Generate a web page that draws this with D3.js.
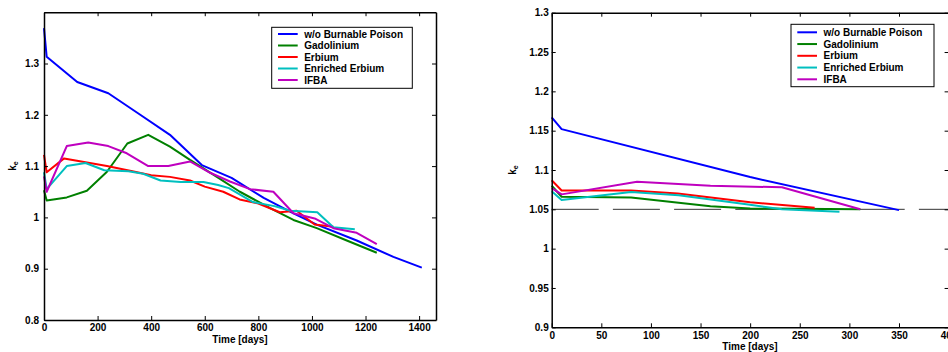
<!DOCTYPE html>
<html><head><meta charset="utf-8">
<script src="https://cdn.jsdelivr.net/npm/d3@7"></script>
<style>
body{margin:0;background:#fff;}
svg{display:block;font-family:"Liberation Sans",Arial,sans-serif;font-weight:bold;}
</style></head><body><svg id="c" width="948" height="352"></svg>
<script>
const seriesNames = ["w/o Burnable Poison","Gadolinium","Erbium","Enriched Erbium","IFBA"];
const seriesColors = ["#0000ff","#008000","#ff0000","#00bfbf","#bf00bf"];

// Left panel: [time (days), k]
const leftNoBP = [[0,1.369],[10,1.313],[124,1.264],[240,1.242],[355,1.2015],[470,1.161],[589,1.102],[700,1.077],[820,1.038],[931,1.008],[1018,0.986],[1167,0.955],[1304,0.923],[1410,0.902]];
const leftGd = [[0,1.053],[10,1.033],[85,1.039],[160,1.052],[235,1.089],[311,1.144],[389,1.161],[470,1.138],[545,1.112],[645,1.079],[731,1.050],[844,1.018],[931,0.995],[1018,0.979],[1130,0.955],[1242,0.931]];
const leftEr = [[0,1.122],[10,1.088],[75,1.115],[235,1.100],[330,1.090],[400,1.082],[470,1.079],[545,1.072],[600,1.060],[669,1.050],[730,1.035],[800,1.027],[880,1.010],[943,1.013],[1010,0.986],[1080,0.982]];
const leftEnrEr = [[0,1.088],[10,1.055],[85,1.100],[155,1.106],[225,1.092],[315,1.090],[370,1.085],[435,1.072],[510,1.069],[595,1.069],[650,1.063],[690,1.057],[780,1.030],[860,1.022],[920,1.013],[1020,1.010],[1080,0.981],[1160,0.977]];
const leftIFBA = [[0,1.080],[10,1.050],[85,1.139],[165,1.146],[240,1.139],[309,1.125],[389,1.100],[464,1.100],[545,1.109],[620,1.087],[694,1.070],[769,1.055],[856,1.050],[931,1.008],[1010,0.998],[1080,0.979],[1167,0.970],[1242,0.948]];

// Right panel: [time (days), k]
const rightNoBP = [[0,1.167],[10,1.152],[200,1.091],[350,1.049]];
const rightGd = [[0,1.080],[10,1.066],[80,1.065],[160,1.054],[200,1.051],[311,1.050]];
const rightEr = [[0,1.087],[10,1.074],[80,1.074],[127,1.070],[200,1.059],[265,1.052]];
const rightEnrEr = [[0,1.073],[10,1.062],[80,1.072],[128,1.068],[198,1.056],[232,1.050],[290,1.047]];
const rightIFBA = [[0,1.077],[10,1.069],[86,1.085],[160,1.080],[232,1.078],[311,1.050]];

const leftXTicks = [0,200,400,600,800,1000,1200,1400];
const leftYTicks = [0.8,0.9,1.0,1.1,1.2,1.3];
const rightXTicks = [0,50,100,150,200,250,300,350,400];
const rightYTicks = [0.9,0.95,1.0,1.05,1.1,1.15,1.2,1.25,1.3];
const rightRefLine = 1.05;
const xLabel = "Time [days]";

const svg = d3.select("#c");

const panels = [
  {series:[leftNoBP,leftGd,leftEr,leftEnrEr,leftIFBA], xd:[0,1463], yd:[0.8,1.4],
   x0:44, x1:436, y0:320, y1:12.2, xt:leftXTicks, yt:leftYTicks, ypad:5, xpad:4,
   legend:{x:271.7,y:27.3,w:140.6,h:61,first:6.7,step:11.5}, ylab:{x:16,y:166}, xlab:{x:240,y:343}, ref:null},
  {series:[rightNoBP,rightGd,rightEr,rightEnrEr,rightIFBA], xd:[0,400], yd:[0.9,1.3],
   x0:551.7, x1:948.6, y0:327.3, y1:12.7, xt:rightXTicks, yt:rightYTicks, ypad:3, xpad:4.4,
   legend:{x:791,y:24.3,w:143,h:62.4,first:8,step:11.75}, ylab:{x:516,y:170}, xlab:{x:750,y:350}, ref:rightRefLine}
];

const fmt = d => String(+d.toFixed(2));

panels.forEach(p => {
  const x = d3.scaleLinear().domain(p.xd).range([p.x0,p.x1]);
  const y = d3.scaleLinear().domain(p.yd).range([p.y0,p.y1]);
  const g = svg.append("g");

  if (p.ref !== null) {
    g.append("line").attr("x1",p.x0).attr("x2",p.x1).attr("y1",y(p.ref)).attr("y2",y(p.ref))
      .attr("stroke","#333").attr("stroke-width",1).attr("stroke-dasharray","47,14.2");
  }

  const line = d3.line().x(d=>x(d[0])).y(d=>y(d[1]));
  p.series.forEach((s,i) => {
    g.append("path").datum(s).attr("d",line).attr("fill","none")
      .attr("stroke",seriesColors[i]).attr("stroke-width",2).attr("stroke-linejoin","round");
  });

  const styleAxis = a => {
    a.select(".domain").attr("stroke","#000").attr("stroke-width",1.5);
    a.selectAll(".tick line").attr("stroke","#000").attr("stroke-width",1);
    a.selectAll("text").attr("font-size",10).attr("font-family","Liberation Sans, Arial, sans-serif")
      .attr("font-weight","bold").attr("fill","#000");
  };
  const ax = [
    g.append("g").attr("transform",`translate(0,${p.y0})`)
      .call(d3.axisBottom(x).tickValues(p.xt).tickFormat(fmt).tickSizeInner(-4).tickSizeOuter(0).tickPadding(p.xpad)),
    g.append("g").attr("transform",`translate(0,${p.y1})`)
      .call(d3.axisTop(x).tickValues(p.xt).tickFormat("").tickSizeInner(-4).tickSizeOuter(0)),
    g.append("g").attr("transform",`translate(${p.x0},0)`)
      .call(d3.axisLeft(y).tickValues(p.yt).tickFormat(fmt).tickSizeInner(-4).tickSizeOuter(0).tickPadding(p.ypad)),
    g.append("g").attr("transform",`translate(${p.x1},0)`)
      .call(d3.axisRight(y).tickValues(p.yt).tickFormat("").tickSizeInner(-4).tickSizeOuter(0))
  ];
  ax.forEach(styleAxis);

  // Axis labels
  g.append("text").attr("x",p.xlab.x).attr("y",p.xlab.y).attr("text-anchor","middle")
    .attr("font-size",10).text(xLabel);
  const yl = g.append("text").attr("transform",`translate(${p.ylab.x},${p.ylab.y}) rotate(-90)`)
    .attr("text-anchor","middle").attr("font-size",10);
  yl.append("tspan").text("k");
  yl.append("tspan").attr("font-size",7).attr("dy",2).text("e");

  // Legend
  const L = p.legend;
  const lg = g.append("g");
  lg.append("rect").attr("x",L.x).attr("y",L.y).attr("width",L.w).attr("height",L.h)
    .attr("fill","#fff").attr("stroke","#000").attr("stroke-width",1);
  seriesNames.forEach((n,i) => {
    const cy = L.y + L.first + i*L.step;
    lg.append("line").attr("x1",L.x+6.3).attr("x2",L.x+26).attr("y1",cy).attr("y2",cy)
      .attr("stroke",seriesColors[i]).attr("stroke-width",2);
    lg.append("text").attr("x",L.x+32.5).attr("y",cy+3.6).attr("font-size",10).text(n);
  });
});
</script></body></html>
